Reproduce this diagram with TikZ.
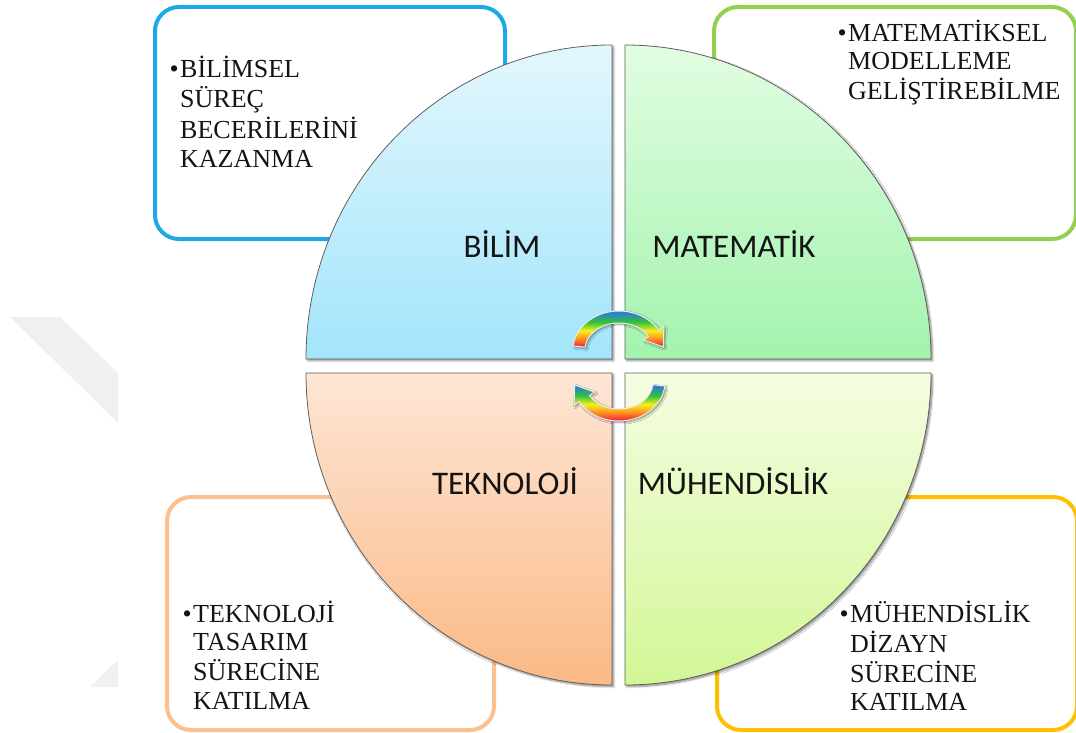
\documentclass[tikz,border=0pt]{standalone}
\usepackage{fontspec}
\setmainfont{Liberation Serif}
\newfontfamily\labelfont{Carlito}
\usetikzlibrary{shadows.blur}

\definecolor{sciblue}{HTML}{1EA8E6}
\definecolor{mathgreen}{HTML}{92D050}
\definecolor{techorange}{HTML}{FAC090}
\definecolor{enggold}{HTML}{FFC000}
\definecolor{wmgrey}{HTML}{F0F0F0}
\definecolor{textdark}{HTML}{141414}
\definecolor{quadedge}{HTML}{5F5F5F}
\definecolor{scitop}{HTML}{E3F7FD}
\definecolor{scibot}{HTML}{A2E5FB}
\definecolor{mathtop}{HTML}{E2FDE2}
\definecolor{mathbot}{HTML}{A3F3AE}
\definecolor{techtop}{HTML}{FDE6D6}
\definecolor{techbot}{HTML}{FBB985}
\definecolor{engtop}{HTML}{F5FDE2}
\definecolor{engbot}{HTML}{D2F796}
\definecolor{rbred}{HTML}{F0303A}
\definecolor{rborange}{HTML}{FF9A20}
\definecolor{rbyellow}{HTML}{F4F020}
\definecolor{rbgreen}{HTML}{30C040}
\definecolor{rbblue}{HTML}{2C7CD8}

\pgfdeclareverticalshading{rainbowband}{100bp}{%
  color(0bp)=(rbred); color(27bp)=(rbred); color(38bp)=(rborange);
  color(48bp)=(rbyellow); color(60bp)=(rbgreen); color(73bp)=(rbblue);
  color(100bp)=(rbblue)}

\tikzset{
  infobox/.style={draw, line width=4pt, rounded corners=24pt, fill=white,
    rectangle, inner sep=0pt, anchor=north west},
  quad/.style={draw=quadedge, line width=0.8pt,
    blur shadow={shadow xshift=1.8pt, shadow yshift=-1.8pt,
      shadow blur steps=6, shadow opacity=45}},
  qlabel/.style={anchor=base, inner sep=0pt, text=textdark,
    font=\labelfont\fontsize{33}{36}\selectfont},
  boxtext/.style={anchor=base west, inner sep=0pt, text=textdark,
    font=\fontsize{26}{28.5}\selectfont},
  bulletmark/.style={anchor=base east, inner sep=0pt, text=textdark,
    font=\fontsize{26}{28.5}\selectfont},
  cyclearrow/.style={shading=rainbowband, draw=white!85!gray, line width=1pt,
    blur shadow={shadow xshift=1.4pt, shadow yshift=-1.4pt,
      shadow blur steps=5, shadow opacity=45}}
}

% curved rainbow arrow: #1,#2 = centre of the arc, #3 = +1 (over the top) or -1 (underneath)
\newcommand\cyclearrowpath[3]{%
  \shade[cyclearrow]
    plot[domain=186:330, samples=40, variable=\t]
      ({#1+#3*46*cos(\t)}, {#2+#3*39*sin(\t)})
    -- ({#1+#3*44.9}, {#2+#3*(-23.3)})
    -- ({#1+#3*44.4}, {#2+#3*(-3.0)})
    -- ({#1+#3*24.5}, {#2+#3*(-10.05)})
    -- plot[domain=330:186, samples=40, variable=\t]
      ({#1+#3*34*cos(\t)}, {#2+#3*27*sin(\t)})
    -- cycle;}

\begin{document}
\begin{tikzpicture}[x=1pt, y=-1pt]
\useasboundingbox (0,0) rectangle (1076,733);

% faint chevron in the background
\fill[wmgrey] (10,317) -- (60,317) -- (118,373) -- (118,423) -- cycle;
\fill[wmgrey] (90,687) -- (118,660) -- (118,687) -- cycle;

% outer text boxes
\node[infobox, draw=sciblue, minimum width=350pt, minimum height=232pt] (boxsci) at (153,5) {};
\node[infobox, draw=mathgreen, minimum width=362pt, minimum height=232pt] (boxmath) at (712,5) {};
\node[infobox, draw=techorange, minimum width=327pt, minimum height=233pt] (boxtech) at (165,495) {};
\node[infobox, draw=enggold, minimum width=360pt, minimum height=233pt] (boxeng) at (715,495) {};

% four quadrants of the central disc
\shade[quad, top color=scitop, bottom color=scibot]
  (612,359) -- (306,359) .. controls (306,185.6) and (443,45) .. (612,45) -- cycle;
\shade[quad, top color=mathtop, bottom color=mathbot]
  (625,359) -- (625,45) .. controls (794,45) and (931,185.6) .. (931,359) -- cycle;
\shade[quad, top color=techtop, bottom color=techbot]
  (612,373) -- (306,373) .. controls (306,545.3) and (443,685) .. (612,685) -- cycle;
\shade[quad, top color=engtop, bottom color=engbot]
  (625,373) -- (931,373) .. controls (931,545.3) and (794,685) .. (625,685) -- cycle;

% quadrant titles
\node[qlabel] (lblsci)  at (502,257) {BİLİM};
\node[qlabel] (lblmath) at (734,257) {MATEMATİK};
\node[qlabel] (lbltech) at (505,494) {TEKNOLOJİ};
\node[qlabel] (lbleng)  at (733,494) {MÜHENDİSLİK};

% cycle arrows in the middle
\cyclearrowpath{619}{350}{1}
\cyclearrowpath{619}{382}{-1}

% box texts
\node[bulletmark] (bsci) at (179,78) {•};
\node[boxtext, font=\fontsize{26}{29.5}\selectfont] (tsci) at (180,78)
  {\begin{tabular}[t]{@{}l@{}}BİLİMSEL\\SÜREÇ\\BECERİLERİNİ\\KAZANMA\end{tabular}};

\node[bulletmark] (bmath) at (847,42) {•};
\node[boxtext, font=\fontsize{26}{28}\selectfont] (tmath) at (848,42)
  {\begin{tabular}[t]{@{}l@{}}MATEMATİKSEL\\MODELLEME\\GELİŞTİREBİLME\end{tabular}};

\node[bulletmark] (btech) at (192,622) {•};
\node[boxtext] (ttech) at (193,622)
  {\begin{tabular}[t]{@{}l@{}}TEKNOLOJİ\\TASARIM\\SÜRECİNE\\KATILMA\end{tabular}};

\node[bulletmark] (beng) at (849,622) {•};
\node[boxtext] (teng) at (850,622)
  {\begin{tabular}[t]{@{}l@{}}MÜHENDİSLİK\\DİZAYN\\SÜRECİNE\\KATILMA\end{tabular}};
\end{tikzpicture}
\end{document}
